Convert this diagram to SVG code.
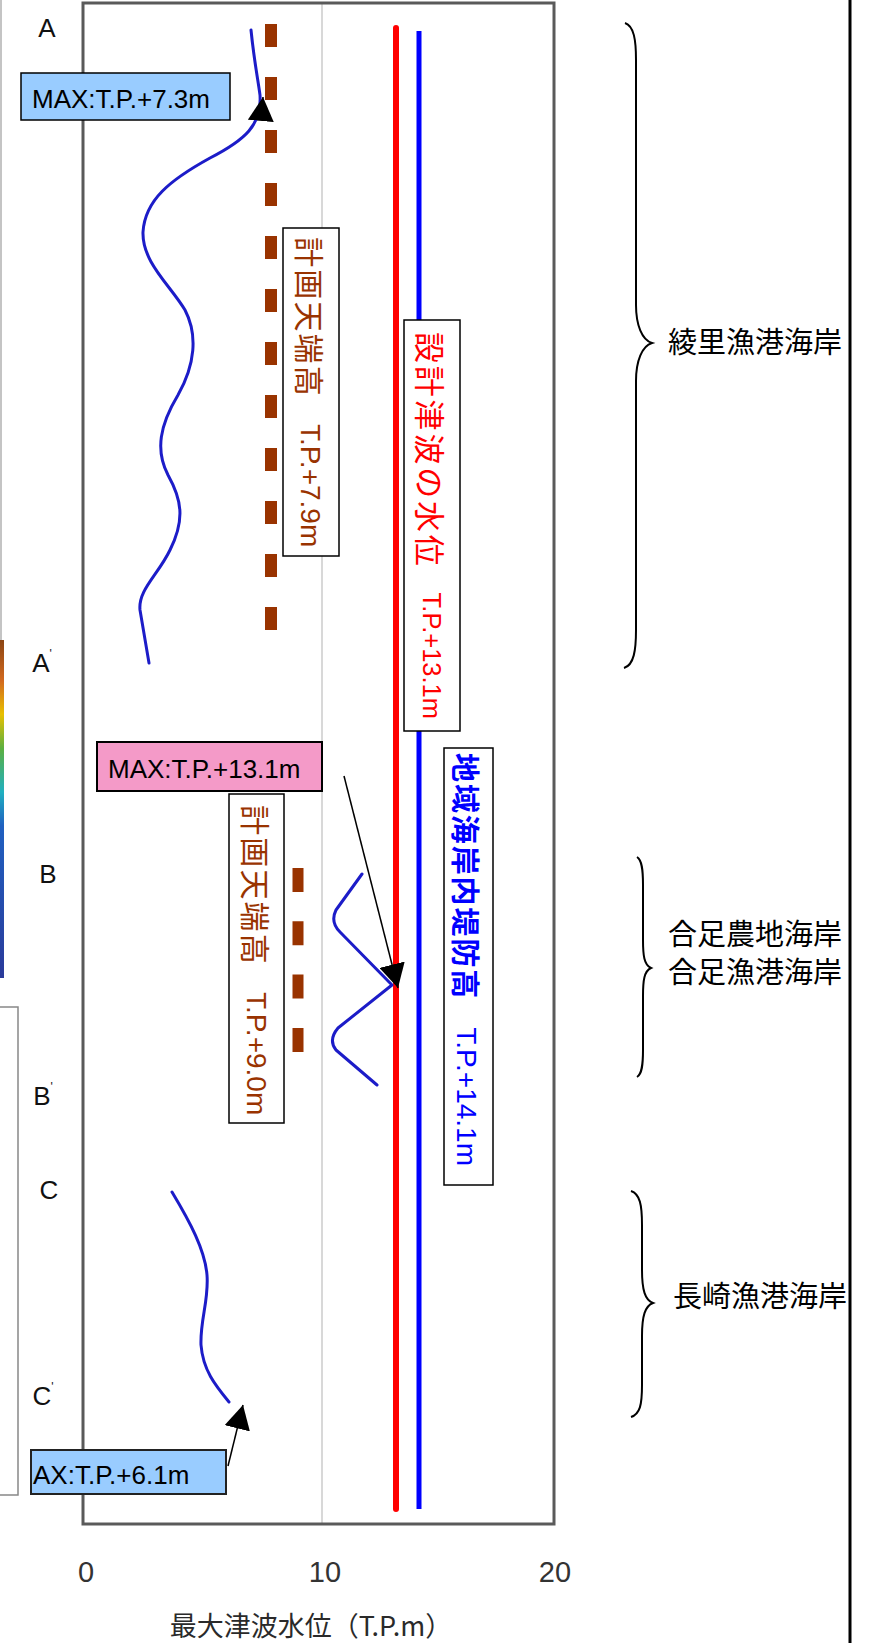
<svg xmlns="http://www.w3.org/2000/svg" width="875" height="1643" viewBox="0 0 875 1643">
<style>
.lat { font-family: "Liberation Sans", Arial, "Noto Sans CJK JP", sans-serif; }
.cjk { font-family: "Noto Sans CJK JP", "Noto Sans CJK SC", sans-serif; }
.box { fill: #ffffff; stroke: #000000; stroke-width: 1.5; }
.curve { fill: none; stroke: #1c1cc8; stroke-width: 3; stroke-linecap: round; stroke-linejoin: round; }
.brace { fill: none; stroke: #000000; stroke-width: 2; }
.vt { dominant-baseline: central; }
.vj { font-family: "Noto Sans CJK JP", "Noto Sans CJK SC", sans-serif; }
.frame { fill: none; stroke: #5a5a5a; stroke-width: 3; }
.sec { font-size: 29px; fill: #000; }
.pt { font-size: 26px; fill: #111; text-anchor: middle; }
.tick { font-size: 29px; fill: #333; text-anchor: middle; }
.maxt { font-size: 26px; fill: #000; }
</style>
<defs>
<linearGradient id="cbar" x1="0" y1="0" x2="0" y2="1">
<stop offset="0" stop-color="#8b4513"/>
<stop offset="0.12" stop-color="#d2691e"/>
<stop offset="0.22" stop-color="#e8c000"/>
<stop offset="0.32" stop-color="#5cb040"/>
<stop offset="0.45" stop-color="#20b0c0"/>
<stop offset="0.55" stop-color="#2060c0"/>
<stop offset="1" stop-color="#2a3a9a"/>
</linearGradient>
<marker id="ah" markerUnits="userSpaceOnUse" markerWidth="24" markerHeight="26" refX="24" refY="13" orient="auto">
<path d="M0,0 L24,13 L0,26 z" fill="#000"/>
</marker>
</defs>
<rect x="0" y="0" width="875" height="1643" fill="#ffffff"/>

<g id="left-panel">
<line x1="1" y1="0" x2="1" y2="640" stroke="#c4c4c4" stroke-width="2"/>
<rect x="0" y="640" width="4" height="338" fill="url(#cbar)"/>
<path d="M0,1007 H18 V1495 H0" fill="none" stroke="#888" stroke-width="1.5"/>
</g>

<g id="plot-frame">
<line x1="322" y1="4" x2="322" y2="1524" stroke="#d8d8d8" stroke-width="2"/>
<rect class="frame" x="83" y="3" width="471" height="1521"/>
<text class="lat tick" x="86" y="1582">0</text>
<text class="lat tick" x="325" y="1582">10</text>
<text class="lat tick" x="555" y="1582">20</text>
<text class="cjk" x="311" y="1636" font-size="27" fill="#2a2a2a" text-anchor="middle">最大津波水位（T.P.m）</text>
</g>

<line id="page-border" x1="850" y1="0" x2="850" y2="1643" stroke="#000" stroke-width="3"/>

<g id="point-labels">
<text class="lat pt" x="47" y="37">A</text>
<text class="lat pt" x="42" y="672">A<tspan font-size="12" dy="-14">'</tspan></text>
<text class="lat pt" x="48" y="883">B</text>
<text class="lat pt" x="43" y="1105">B<tspan font-size="12" dy="-14">'</tspan></text>
<text class="lat pt" x="49" y="1199">C</text>
<text class="lat pt" x="43" y="1405">C<tspan font-size="12" dy="-14">'</tspan></text>
</g>

<g id="design-lines">
<line id="plan-crest-A" x1="271" y1="24" x2="271" y2="630" stroke="#993300" stroke-width="12" stroke-dasharray="23 30"/>
<line id="plan-crest-B" x1="298" y1="868" x2="298" y2="1052" stroke="#993300" stroke-width="11" stroke-dasharray="24 29.3"/>
<line id="design-tsunami" x1="396" y1="28" x2="396" y2="1509" stroke="#ff0000" stroke-width="6" stroke-linecap="round"/>
<line id="levee-height" x1="419" y1="31" x2="419" y2="1509" stroke="#0000ff" stroke-width="5"/>
</g>

<g id="tsunami-curves">
<path id="curve-A" class="curve" d="M251,30 C254,60 258,80 260,95 C262,125 245,140 210,158 C170,180 145,200 143,232 C142,262 170,285 185,310 C198,335 195,365 178,395 C160,425 155,450 168,475 C182,500 185,520 170,550 C158,575 138,590 140,610 L149,663"/>
<path id="curve-B" class="curve" d="M362,874 L336,910 Q330,922 340,932 L392,985 L338,1028 Q328,1040 336,1050 L377,1085"/>
<path id="curve-C" class="curve" d="M172,1192 C190,1222 205,1250 207,1275 C209,1300 200,1320 201,1345 C203,1370 215,1385 229,1402"/>
</g>

<g id="label-plan-A">
<rect class="box" x="283" y="228" width="56" height="328"/>
<text class="lat vt" fill="#993300" transform="translate(311,237) rotate(90)"><tspan class="vj" font-size="30" letter-spacing="2.2">計画天端高</tspan><tspan dx="26" font-size="28">T.P.+7.9m</tspan></text>
</g>

<g id="label-design-tsunami">
<rect class="box" x="404" y="320" width="56" height="411"/>
<text class="lat vt" fill="#ff0000" transform="translate(432,332) rotate(90)"><tspan class="vj" font-size="31" letter-spacing="2.8">設計津波の水位</tspan><tspan dx="24" font-size="25.5">T.P.+13.1m</tspan></text>
</g>

<g id="label-levee">
<rect class="box" x="444" y="748" width="49" height="437"/>
<text class="lat vt" fill="#0000ff" transform="translate(467,753) rotate(90)"><tspan class="vj" font-size="29" font-weight="bold" letter-spacing="1.9">地域海岸内堤防高</tspan><tspan dx="27" font-size="28">T.P.+14.1m</tspan></text>
</g>

<g id="label-plan-B">
<rect class="box" x="229" y="794" width="55" height="329"/>
<text class="lat vt" fill="#993300" transform="translate(257,805) rotate(90)"><tspan class="vj" font-size="30" letter-spacing="2.2">計画天端高</tspan><tspan dx="26" font-size="28">T.P.+9.0m</tspan></text>
</g>

<g id="max-A">
<rect x="21" y="73" width="209" height="47" fill="#99ccff" stroke="#000" stroke-width="1.5"/>
<text class="lat maxt" x="32" y="108">MAX:T.P.+7.3m</text>
</g>

<g id="max-B">
<rect x="97" y="742" width="225" height="49" fill="#f49ac8" stroke="#000" stroke-width="2"/>
<text class="lat maxt" x="108" y="778" font-size="27">MAX:T.P.+13.1m</text>
</g>

<g id="max-C">
<rect x="31" y="1450" width="195" height="44" fill="#99ccff" stroke="#222" stroke-width="2"/>
<text class="lat maxt" x="33" y="1484" font-size="28">AX:T.P.+6.1m</text>
</g>

<g id="connectors">
<line x1="261" y1="119" x2="263" y2="97" stroke="#000" stroke-width="1.5" marker-end="url(#ah)"/>
<line x1="344" y1="776" x2="398" y2="988" stroke="#000" stroke-width="1.5" marker-end="url(#ah)"/>
<line x1="228" y1="1466" x2="243" y2="1405" stroke="#000" stroke-width="1.5" marker-end="url(#ah)"/>
</g>

<g id="section-ryori">
<path class="brace" d="M625,23 C634,26 636,40 636,60 L636,305 C636,325 642,340 652,343 C642,346 636,361 636,381 L636,630 C636,650 634,665 624,668"/>
<text class="cjk sec" x="668" y="353">綾里漁港海岸</text>
</g>

<g id="section-ota">
<path class="brace" d="M637,857 C642,860 643,870 643,885 L643,940 C643,955 644,965 651,968 C644,971 643,981 643,996 L643,1050 C643,1065 642,1074 637,1077"/>
<text class="cjk sec" x="668" y="945">合足農地海岸</text>
<text class="cjk sec" x="668" y="983">合足漁港海岸</text>
</g>

<g id="section-nagasaki">
<path class="brace" d="M631,1191 C640,1194 642,1205 642,1225 L642,1270 C642,1290 645,1300 653,1303 C645,1306 642,1316 642,1336 L642,1385 C642,1405 640,1414 631,1417"/>
<text class="cjk sec" x="673" y="1307">長崎漁港海岸</text>
</g>
</svg>
